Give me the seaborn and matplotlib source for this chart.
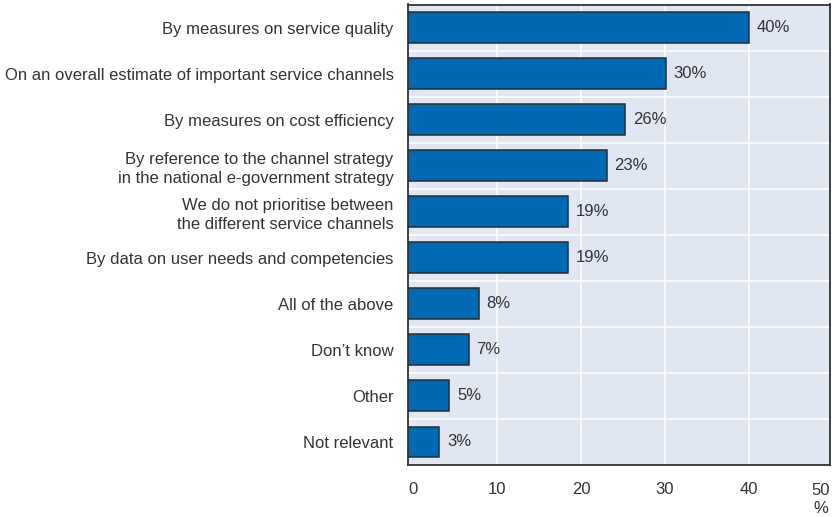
import matplotlib
matplotlib.use("Agg")
import matplotlib.pyplot as plt
import seaborn as sns
import pandas as pd

# Data
categories = [
    "By measures on service quality",
    "On an overall estimate of important service channels",
    "By measures on cost efficiency",
    "By reference to the channel strategy\nin the national e-government strategy",
    "We do not prioritise between\nthe different service channels",
    "By data on user needs and competencies",
    "All of the above",
    "Don\u2019t know",
    "Other",
    "Not relevant",
]
values = [40.0, 30.1, 25.3, 23.1, 18.5, 18.5, 7.8, 6.6, 4.3, 3.1]
value_labels = ["40%", "30%", "26%", "23%", "19%", "19%", "8%", "7%", "5%", "3%"]
x_ticks = [0, 10, 20, 30, 40]

df = pd.DataFrame({"category": categories, "value": values})

sns.set_theme(style="white")
plt.rcParams["font.family"] = ["Liberation Sans", "DejaVu Sans"]

TXT = "#333333"
FS = 12

fig = plt.figure(figsize=(8.32, 5.17), dpi=100)
ax = fig.add_axes([407.5 / 832, 1 - 465 / 517, (830 - 407.5) / 832, (465 - 4.5) / 517])
ax.set_facecolor("#E0E7F3")

x_left = -0.7
sns.barplot(data=df, x="value", y="category", ax=ax, color="#0069B4",
            saturation=1, width=0.67, edgecolor="#2A2A33", linewidth=1.1, zorder=3)
# bars start at the left frame, as in the original
for p in ax.patches:
    w = p.get_width()
    p.set_x(x_left)
    p.set_width(w - x_left)

ax.set_xlim(x_left, 49.7)
ax.set_ylim(len(categories) - 0.5, -0.5)

# grid: vertical at tick values, horizontal between categories
for t in x_ticks[1:]:
    ax.axvline(t, color="white", lw=1.2, zorder=1)
for i in range(len(categories) - 1):
    ax.axhline(i + 0.5, color="white", lw=1.2, zorder=1)

ax.set_xticks(x_ticks)
ax.set_xticklabels([str(t) for t in x_ticks], fontsize=FS, color=TXT)
ax.tick_params(axis="x", direction="in", length=5, width=1, color="#555555", pad=12)
ax.set_yticks(range(len(categories)))
ax.set_yticklabels(categories, fontsize=FS, color=TXT, linespacing=1.35)
ax.tick_params(axis="y", length=0, pad=10)
ax.set_yticks([i + 0.5 for i in range(len(categories) - 1)], minor=True)
ax.tick_params(axis="y", which="minor", direction="in", length=5, width=1, color="#555555")
ax.set_xlabel("")
ax.set_ylabel("")

for i, (v, lab) in enumerate(zip(values, value_labels)):
    ax.text(v + 0.9, i, lab, va="center", ha="left", fontsize=FS, color=TXT)

ax.text(1.0, -0.04, "50", transform=ax.transAxes, ha="right", va="top",
        fontsize=FS, color=TXT)
ax.text(0.997, -0.078, "%", transform=ax.transAxes, ha="right", va="top",
        fontsize=FS, color=TXT)

for s in ax.spines.values():
    s.set_color("#333333")
    s.set_linewidth(1.3)

fig.savefig("out.png", dpi=100)
